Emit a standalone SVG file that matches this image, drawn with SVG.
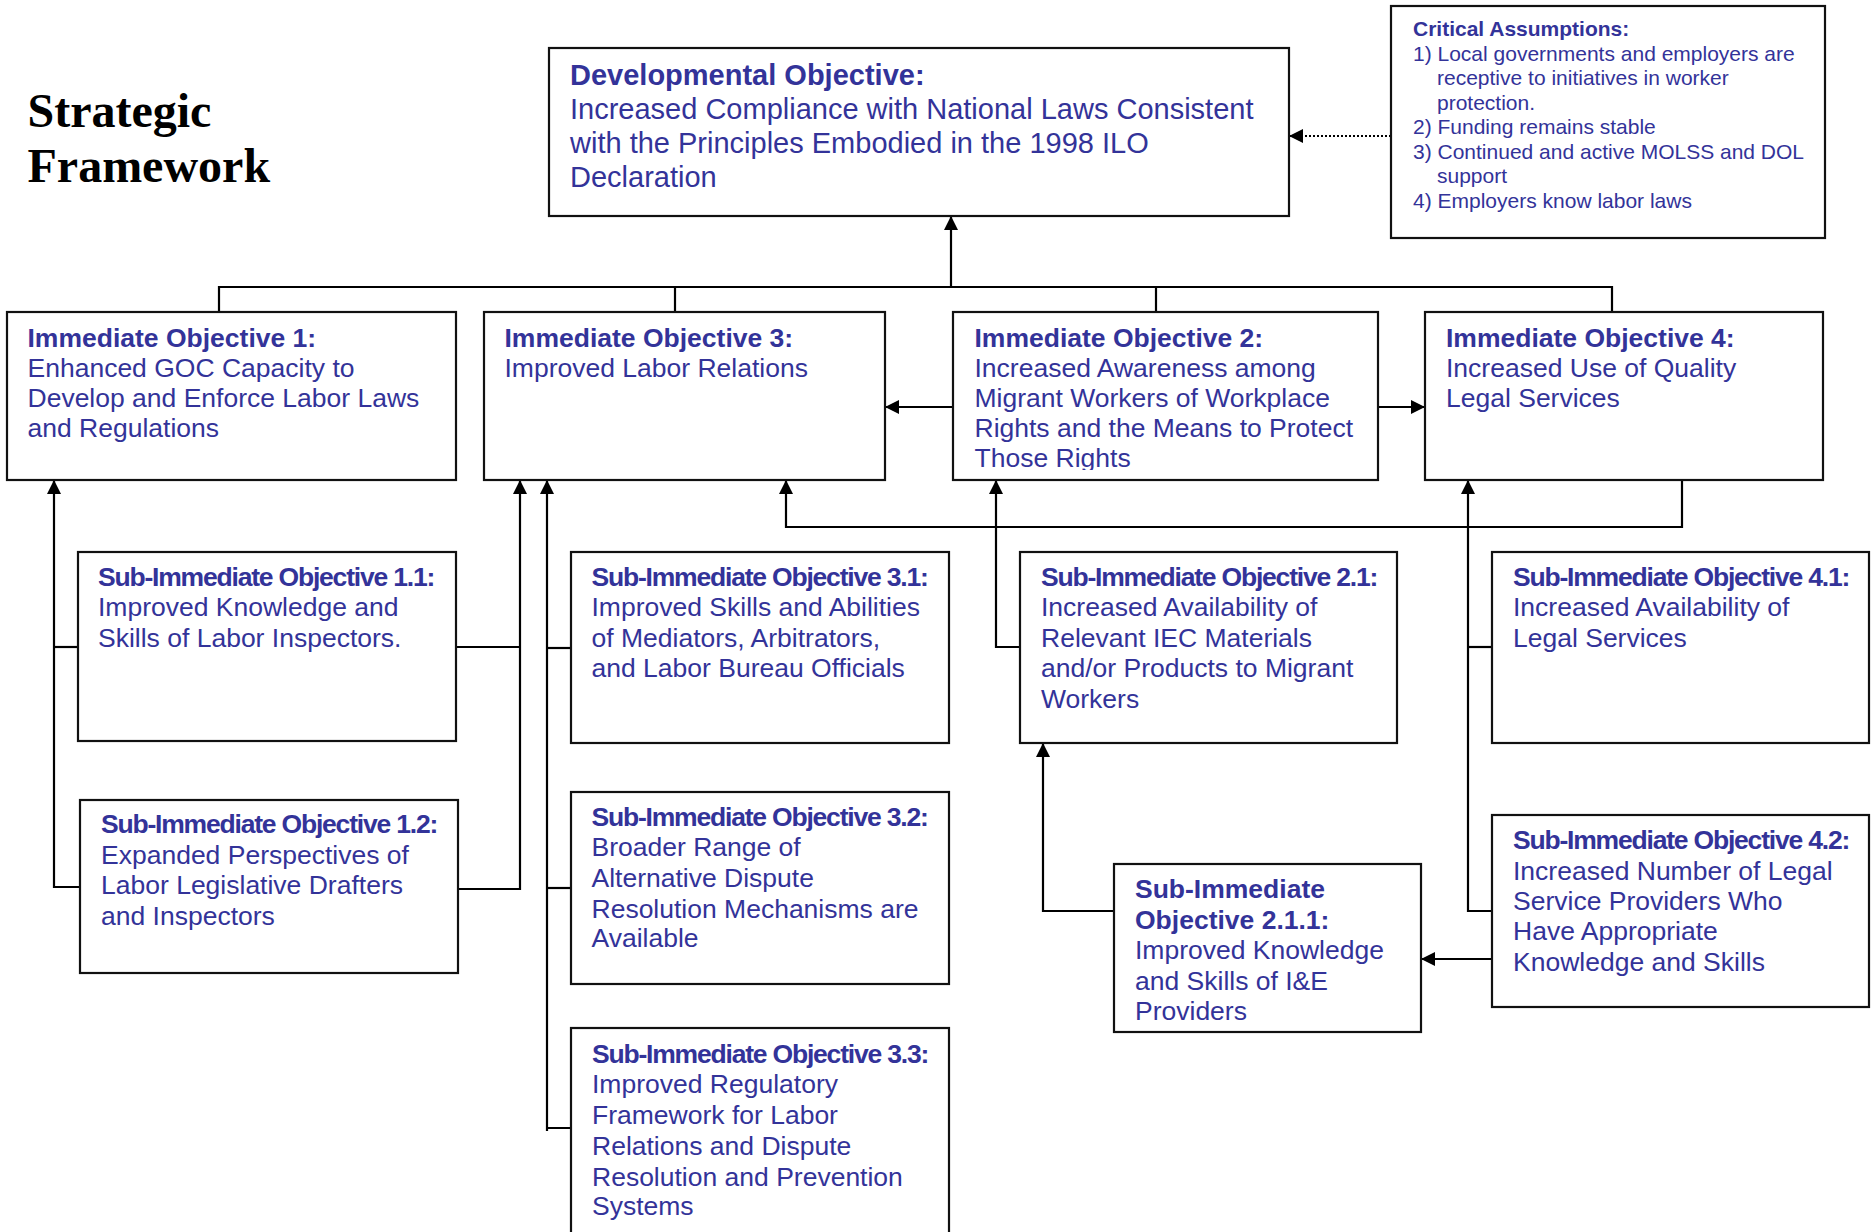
<svg xmlns="http://www.w3.org/2000/svg" width="1874" height="1232" viewBox="0 0 1874 1232">
<style>
.box{fill:#fff;stroke:#111;stroke-width:2.2}
.t{font-family:"Liberation Sans",Arial,sans-serif;fill:#333399}
.b{font-weight:bold}
.do{font-size:29px}
.io{font-size:26.5px}
.st{letter-spacing:-1.2px}
.ca{font-size:21px}
.c{fill:none;stroke:#000;stroke-width:2.2}
.dot{fill:none;stroke:#000;stroke-width:2.2;stroke-dasharray:2 2}
.ttl{font-family:"Liberation Serif","Times New Roman",serif;font-weight:bold;font-size:48px;fill:#000}
</style>
<defs>
<marker id="ah" markerUnits="userSpaceOnUse" markerWidth="15" markerHeight="15" refX="14" refY="7" orient="auto">
<path d="M0,0 L14,7 L0,14 z" fill="#000"/>
</marker>
<clipPath id="clipIO2"><rect x="953" y="312" width="425" height="158"/></clipPath>
</defs>
<rect width="1874" height="1232" fill="#fff"/>

<g id="title">
<text class="ttl" x="27.5" y="127">Strategic</text>
<text class="ttl" x="27.5" y="182">Framework</text>
</g>

<g id="connectors">
<path class="c" d="M219,312 V287 H1612 V312"/>
<path class="c" d="M675,287 V312"/>
<path class="c" d="M1156,287 V312"/>
<path class="c" d="M951,287 V216" marker-end="url(#ah)"/>
<path class="dot" d="M1391,136 H1289" marker-end="url(#ah)"/>
<path class="c" d="M953,407 H885" marker-end="url(#ah)"/>
<path class="c" d="M1378,407 H1425" marker-end="url(#ah)"/>
<path class="c" d="M1682,480 V527 H786 V480" marker-end="url(#ah)"/>
<path class="c" d="M78,647 H54"/>
<path class="c" d="M80,887 H54 V480" marker-end="url(#ah)"/>
<path class="c" d="M456,647 H520"/>
<path class="c" d="M458,889 H520 V480" marker-end="url(#ah)"/>
<path class="c" d="M571,648 H547"/>
<path class="c" d="M571,888 H547"/>
<path class="c" d="M571,1128 H547 V1131 M547,1131 V480" marker-end="url(#ah)"/>
<path class="c" d="M1020,647 H996 V480" marker-end="url(#ah)"/>
<path class="c" d="M1114,911 H1043 V743" marker-end="url(#ah)"/>
<path class="c" d="M1492,647 H1468"/>
<path class="c" d="M1492,911 H1468 V480" marker-end="url(#ah)"/>
<path class="c" d="M1492,959 H1421" marker-end="url(#ah)"/>
</g>

<g id="do">
<rect class="box" x="549" y="48" width="740" height="168"/>
<text class="t do b" x="570" y="85">Developmental Objective:</text>
<text class="t do" x="570" y="119">Increased Compliance with National Laws Consistent</text>
<text class="t do" x="570" y="153">with the Principles Embodied in the 1998 ILO</text>
<text class="t do" x="570" y="187">Declaration</text>
</g>

<g id="ca">
<rect class="box" x="1391" y="6" width="434" height="232"/>
<text class="t ca b" x="1413" y="36">Critical Assumptions:</text>
<text class="t ca" x="1413" y="61">1) Local governments and employers are</text>
<text class="t ca" x="1437" y="85">receptive to initiatives in worker</text>
<text class="t ca" x="1437" y="110">protection.</text>
<text class="t ca" x="1413" y="134">2) Funding remains stable</text>
<text class="t ca" x="1413" y="159">3) Continued and active MOLSS and DOL</text>
<text class="t ca" x="1437" y="183">support</text>
<text class="t ca" x="1413" y="208">4) Employers know labor laws</text>
</g>

<g id="io1">
<rect class="box" x="7" y="312" width="449" height="168"/>
<text class="t io b" x="27.5" y="347">Immediate Objective 1:</text>
<text class="t io" x="27.5" y="377">Enhanced GOC Capacity to</text>
<text class="t io" x="27.5" y="407">Develop and Enforce Labor Laws</text>
<text class="t io" x="27.5" y="437">and Regulations</text>
</g>

<g id="io3">
<rect class="box" x="484" y="312" width="401" height="168"/>
<text class="t io b" x="504.5" y="347">Immediate Objective 3:</text>
<text class="t io" x="504.5" y="377">Improved Labor Relations</text>
</g>

<g id="io2">
<rect class="box" x="953" y="312" width="425" height="168"/>
<g clip-path="url(#clipIO2)">
<text class="t io b" x="974.5" y="347">Immediate Objective 2:</text>
<text class="t io" x="974.5" y="377">Increased Awareness among</text>
<text class="t io" x="974.5" y="407">Migrant Workers of Workplace</text>
<text class="t io" x="974.5" y="437">Rights and the Means to Protect</text>
<text class="t io" x="974.5" y="467">Those Rights</text>
</g>
</g>

<g id="io4">
<rect class="box" x="1425" y="312" width="398" height="168"/>
<text class="t io b" x="1446" y="347">Immediate Objective 4:</text>
<text class="t io" x="1446" y="377">Increased Use of Quality</text>
<text class="t io" x="1446" y="407">Legal Services</text>
</g>

<g id="sio11">
<rect class="box" x="78" y="552" width="378" height="189"/>
<text class="t io b st" x="98" y="586">Sub-Immediate Objective 1.1:</text>
<text class="t io" x="98" y="616">Improved Knowledge and</text>
<text class="t io" x="98" y="647">Skills of Labor Inspectors.</text>
</g>

<g id="sio12">
<rect class="box" x="80" y="800" width="378" height="173"/>
<text class="t io b st" x="101" y="833">Sub-Immediate Objective 1.2:</text>
<text class="t io" x="101" y="864">Expanded Perspectives of</text>
<text class="t io" x="101" y="894">Labor Legislative Drafters</text>
<text class="t io" x="101" y="925">and Inspectors</text>
</g>

<g id="sio31">
<rect class="box" x="571" y="552" width="378" height="191"/>
<text class="t io b st" x="591.5" y="586">Sub-Immediate Objective 3.1:</text>
<text class="t io" x="591.5" y="616">Improved Skills and Abilities</text>
<text class="t io" x="591.5" y="647">of Mediators, Arbitrators,</text>
<text class="t io" x="591.5" y="677">and Labor Bureau Officials</text>
</g>

<g id="sio32">
<rect class="box" x="571" y="792" width="378" height="192"/>
<text class="t io b st" x="591.5" y="826">Sub-Immediate Objective 3.2:</text>
<text class="t io" x="591.5" y="856">Broader Range of</text>
<text class="t io" x="591.5" y="887">Alternative Dispute</text>
<text class="t io" x="591.5" y="918">Resolution Mechanisms are</text>
<text class="t io" x="591.5" y="947">Available</text>
</g>

<g id="sio33">
<rect class="box" x="571" y="1028" width="378" height="220"/>
<text class="t io b st" x="592" y="1063">Sub-Immediate Objective 3.3:</text>
<text class="t io" x="592" y="1093">Improved Regulatory</text>
<text class="t io" x="592" y="1124">Framework for Labor</text>
<text class="t io" x="592" y="1155">Relations and Dispute</text>
<text class="t io" x="592" y="1186">Resolution and Prevention</text>
<text class="t io" x="592" y="1215">Systems</text>
</g>

<g id="sio21">
<rect class="box" x="1020" y="552" width="377" height="191"/>
<text class="t io b st" x="1041" y="586">Sub-Immediate Objective 2.1:</text>
<text class="t io" x="1041" y="616">Increased Availability of</text>
<text class="t io" x="1041" y="647">Relevant IEC Materials</text>
<text class="t io" x="1041" y="677">and/or Products to Migrant</text>
<text class="t io" x="1041" y="708">Workers</text>
</g>

<g id="sio41">
<rect class="box" x="1492" y="552" width="377" height="191"/>
<text class="t io b st" x="1513" y="586">Sub-Immediate Objective 4.1:</text>
<text class="t io" x="1513" y="616">Increased Availability of</text>
<text class="t io" x="1513" y="647">Legal Services</text>
</g>

<g id="sio42">
<rect class="box" x="1492" y="815" width="377" height="192"/>
<text class="t io b st" x="1513" y="849">Sub-Immediate Objective 4.2:</text>
<text class="t io" x="1513" y="880">Increased Number of Legal</text>
<text class="t io" x="1513" y="910">Service Providers Who</text>
<text class="t io" x="1513" y="940">Have Appropriate</text>
<text class="t io" x="1513" y="971">Knowledge and Skills</text>
</g>

<g id="sio211">
<rect class="box" x="1114" y="864" width="307" height="168"/>
<text class="t io b" x="1135" y="898">Sub-Immediate</text>
<text class="t io b" x="1135" y="929">Objective 2.1.1:</text>
<text class="t io" x="1135" y="959">Improved Knowledge</text>
<text class="t io" x="1135" y="990">and Skills of I&amp;E</text>
<text class="t io" x="1135" y="1020">Providers</text>
</g>
</svg>
